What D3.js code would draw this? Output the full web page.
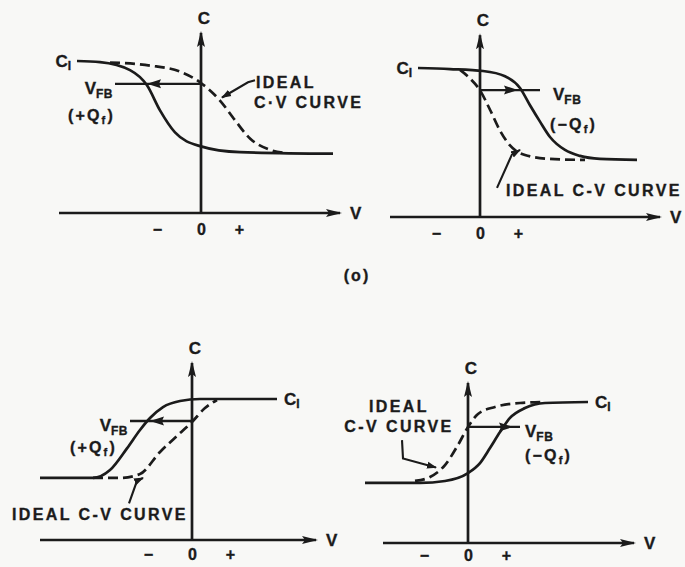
<!DOCTYPE html>
<html>
<head>
<meta charset="utf-8">
<script src="https://cdn.jsdelivr.net/npm/d3@7/dist/d3.min.js"></script>
<style>
  html, body { margin: 0; padding: 0; background: #f8f8f6; }
  svg { display: block; }
  text { font-family: "Liberation Sans", Arial, sans-serif; font-weight: bold; fill: #1b1b1b; stroke: #1b1b1b; stroke-width: 0.35px; }
</style>
</head>
<body>
<svg id="fig" width="685" height="567"></svg>
<script>
// Voltage axis tick labels (negative, zero, positive gate bias)
const tickLabels = ["−", "0", "+"];
const tickValues = [-2.2, 0, 1.9];

// Normalised capacitance C/C_I versus gate voltage (arbitrary units).
// Top row: p-type substrate (C falls with V). Bottom row: n-type (C rises with V).
const aIdeal   = [[-4.55,0.99],[-2.55,0.97],[-1.05,0.93],[-0.05,0.86],[0.95,0.74],[1.7,0.61],[2.45,0.49],[3.35,0.42],[4.2,0.395]];
const aShifted = [[-6.2,1.0],[-5.05,0.993],[-3.55,0.94],[-2.7,0.84],[-2.05,0.675],[-1.3,0.53],[-0.05,0.44],[1.95,0.40],[6.6,0.39]];
const bIdeal   = [[-1.0,0.987],[-0.5,0.93],[0,0.85],[0.5,0.72],[1.0,0.58],[1.5,0.48],[2.25,0.416],[3.5,0.39],[5.25,0.383]];
const bShifted = [[-3.1,1.0],[-1.5,0.993],[0.15,0.98],[1.25,0.945],[2.0,0.866],[2.5,0.75],[3.0,0.64],[3.5,0.537],[4.25,0.45],[5.0,0.41],[6.0,0.39],[7.85,0.383]];
const cIdeal   = [[-4.95,0.44],[-3.6,0.44],[-2.6,0.468],[-1.6,0.624],[-0.7,0.745],[0,0.837],[0.65,0.936],[1.25,0.993]];
const cShifted = [[-7.6,0.44],[-4.95,0.44],[-4.1,0.496],[-3.25,0.65],[-2.6,0.78],[-2.1,0.865],[-1.45,0.943],[-0.6,0.986],[0.4,1.0],[4.25,1.0]];
const dIdeal   = [[-2.65,0.44],[-1.9,0.468],[-1.15,0.553],[-0.5,0.695],[0,0.823],[0.5,0.915],[1.35,0.965],[2.6,0.993],[3.85,1.0]];
const dShifted = [[-5.15,0.426],[-2.4,0.426],[-1.15,0.44],[0,0.496],[0.6,0.567],[1.1,0.674],[1.6,0.787],[2.1,0.887],[2.85,0.957],[3.85,0.993],[6.0,1.0]];

// Flat-band shift: level C, start and end voltage of the shift line, arrowhead position
const aShift = [0.85, -4.3, 0, -2.3];
const bShift = [0.852, 0, 3.0, 1.5];
const cShift = [0.844, -3.1, 0, -1.7];
const dShift = [0.823, 0, 2.6, 1.85];

const charge = ["+", "−", "+", "−"];

// Panel geometry: origin, pixel height of C_I, axis extents, label offsets
const panels = [
  { ox: 201, oy: 213, h: 152, vMin: -7.1, vMax: 6.95, cMax: 1.185, ideal: aIdeal, shifted: aShifted, shift: aShift, q: charge[0],
    ciSide: "left", fbSide: "left", fbDx: -2, qDx: 0, qDy: 37, tickPad: 11,
    note: { lines: ["IDEAL", "C·V CURVE"], at: [[2.75, 0.825], [2.65, 0.69]], anchor: "start",
    leader: [[2.7, 0.874], [2.35, 0.86], [1.05, 0.76]] } },
  { ox: 480, oy: 217, h: 149, vMin: -4.5, vMax: 9.0, cMax: 1.22, ideal: bIdeal, shifted: bShifted, shift: bShift, q: charge[1],
    ciSide: "left", fbSide: "right", fbDx: 13, qDx: 10, qDy: 40, tickPad: 11,
    note: { lines: ["IDEAL C-V CURVE"], at: [[1.3, 0.14]], anchor: "start",
    leader: [[0.85, 0.195], [1.6, 0.42], [2.0, 0.45]] } },
  { ox: 192, oy: 540, h: 141, vMin: -7.6, vMax: 6.2, cMax: 1.255, ideal: cIdeal, shifted: cShifted, shift: cShift, q: charge[2],
    ciSide: "right", fbSide: "left", fbDx: -2, qDx: -13, qDy: 32, tickPad: 9,
    note: { lines: ["IDEAL C-V CURVE"], at: [[-9.0, 0.142]], anchor: "start",
    leader: [[-3.15, 0.26], [-2.75, 0.42], [-2.45, 0.44]] } },
  { ox: 468, oy: 543, h: 141, vMin: -4.25, vMax: 8.3, cMax: 1.135, ideal: dIdeal, shifted: dShifted, shift: dShift, q: charge[3],
    ciSide: "right", fbSide: "right", fbDx: 5, qDx: 5, qDy: 34, tickPad: 7,
    note: { lines: ["IDEAL", "C-V CURVE"], at: [[-3.45, 0.93], [-3.45, 0.787]], anchor: "middle",
    leader: [[-3.3, 0.73], [-3.25, 0.6], [-1.6, 0.535]] } }
];

const unit = 20; // pixels per voltage unit
const ink = "#1b1b1b";
const svg = d3.select("#fig");

const defs = svg.append("defs");
defs.append("marker").attr("id", "axisHead")
  .attr("viewBox", "0 0 16 9").attr("refX", 14).attr("refY", 4.5)
  .attr("markerWidth", 16).attr("markerHeight", 9)
  .attr("markerUnits", "userSpaceOnUse").attr("orient", "auto")
  .append("path").attr("d", "M0,0.5 L16,4.5 L0,8.5 L3,4.5 Z").attr("fill", ink);
defs.append("marker").attr("id", "leadHead")
  .attr("viewBox", "0 0 10 8").attr("refX", 9).attr("refY", 4)
  .attr("markerWidth", 10).attr("markerHeight", 8)
  .attr("markerUnits", "userSpaceOnUse").attr("orient", "auto")
  .append("path").attr("d", "M0,0.5 L10,4 L0,7.5 Z").attr("fill", ink);

panels.forEach(p => {
  const x = d3.scaleLinear().domain([p.vMin, p.vMax])
    .range([p.ox + p.vMin * unit, p.ox + p.vMax * unit]);
  const y = d3.scaleLinear().domain([0, 1]).range([p.oy, p.oy - p.h]);
  const g = svg.append("g");
  const seg = d3.line().x(d => x(d[0])).y(d => y(d[1]));
  const smooth = d3.line().x(d => x(d[0])).y(d => y(d[1])).curve(d3.curveMonotoneX);

  // axes
  g.append("path").attr("d", seg([[p.vMin, 0], [p.vMax, 0]]))
    .attr("stroke", ink).attr("stroke-width", 2.7).attr("fill", "none").attr("marker-end", "url(#axisHead)");
  g.append("path").attr("d", seg([[0, 0], [0, p.cMax]]))
    .attr("stroke", ink).attr("stroke-width", 2.7).attr("fill", "none").attr("marker-end", "url(#axisHead)");

  const ax = g.append("g").attr("transform", `translate(0,${y(0)})`)
    .call(d3.axisBottom(x).tickValues(tickValues).tickFormat((d, i) => tickLabels[i]).tickSize(0).tickPadding(p.tickPad));
  ax.select(".domain").remove();
  ax.selectAll("text").attr("font-size", 16).attr("font-family", "Liberation Sans, Arial, sans-serif")
    .attr("font-weight", "bold").attr("fill", ink);

  g.append("text").attr("x", x(p.vMax) + 10).attr("y", y(0) + 6).attr("font-size", 17).text("V");
  g.append("text").attr("x", x(0) + 3).attr("y", y(p.cMax) - 9).attr("font-size", 17)
    .attr("text-anchor", "middle").text("C");

  // curves
  g.append("path").attr("d", smooth(p.ideal)).attr("fill", "none").attr("stroke", ink)
    .attr("stroke-width", 2.7).attr("stroke-dasharray", "10,5");
  g.append("path").attr("d", smooth(p.shifted)).attr("fill", "none").attr("stroke", ink)
    .attr("stroke-width", 2.7);

  // C_I label at the oxide-capacitance plateau
  const plateau = p.ciSide === "left" ? p.shifted[0] : p.shifted[p.shifted.length - 1];
  const ci = g.append("text").attr("font-size", 17).attr("y", y(1) + 6)
    .attr("x", p.ciSide === "left" ? x(plateau[0]) - 6 : x(plateau[0]) + 7)
    .attr("text-anchor", p.ciSide === "left" ? "end" : "start");
  ci.append("tspan").text("C");
  ci.append("tspan").attr("font-size", 12).attr("dy", 3).text("I");

  // flat-band shift line with its arrowhead
  const [c0, v0, v1, vh] = p.shift;
  g.append("path").attr("d", seg([[v0, c0], [v1, c0]])).attr("stroke", ink).attr("stroke-width", 2.3);
  const dir = p.fbSide === "left" ? -1 : 1;
  const hx = x(vh), hy = y(c0);
  g.append("path").attr("d", `M${hx + dir * 8},${hy} L${hx - dir * 6},${hy - 4.5} L${hx - dir * 4},${hy} L${hx - dir * 6},${hy + 4.5} Z`)
    .attr("fill", ink);

  const anchor = p.fbSide === "left" ? "end" : "start";
  const edge = p.fbSide === "left" ? x(v0) : x(v1);
  const fb = g.append("text").attr("x", edge + p.fbDx).attr("y", y(c0) + 10).attr("font-size", 17).attr("text-anchor", anchor);
  fb.append("tspan").text("V");
  fb.append("tspan").attr("font-size", 12).attr("dy", 4).attr("letter-spacing", 0.5).text("FB");
  const qt = g.append("text").attr("x", edge + p.qDx).attr("y", y(c0) + p.qDy).attr("font-size", 16)
    .attr("text-anchor", anchor).attr("letter-spacing", 2.2);
  qt.append("tspan").text(`(${p.q}Q`);
  qt.append("tspan").attr("font-size", 11).attr("dy", 3).text("f");
  qt.append("tspan").attr("dy", -3).text(")");

  // annotation for the ideal curve
  const n = p.note;
  n.lines.forEach((t, i) => {
    g.append("text").attr("x", x(n.at[i][0])).attr("y", y(n.at[i][1]))
      .attr("font-size", 16).attr("letter-spacing", 2.4).attr("text-anchor", n.anchor).text(t);
  });
  g.append("path").attr("d", seg(n.leader)).attr("fill", "none").attr("stroke", ink)
    .attr("stroke-width", 2.1).attr("marker-end", "url(#leadHead)");
});

// figure part label
svg.append("text").attr("x", 357).attr("y", 281).attr("font-size", 16)
  .attr("text-anchor", "middle").attr("letter-spacing", 2).text("(o)");
</script>
</body>
</html>
